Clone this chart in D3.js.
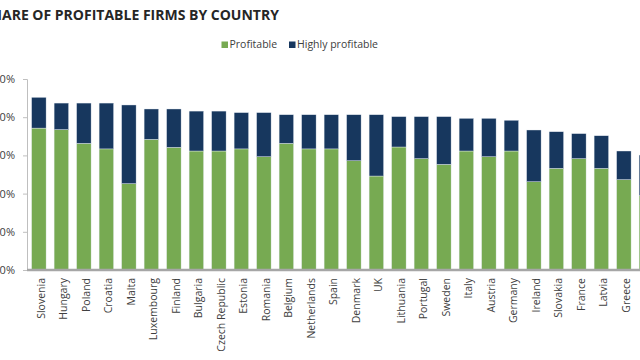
<!DOCTYPE html>
<html><head><meta charset="utf-8">
<script src="https://cdn.jsdelivr.net/npm/d3@7"></script>
<style>html,body{margin:0;padding:0;background:#fff;overflow:hidden}svg{display:block}</style>
</head><body>
<script>
const countries = ["Slovenia","Hungary","Poland","Croatia","Malta","Luxembourg","Finland","Bulgaria","Czech Republic","Estonia","Romania","Belgium","Netherlands","Spain","Denmark","UK","Lithuania","Portugal","Sweden","Italy","Austria","Germany","Ireland","Slovakia","France","Latvia","Greece","Cyprus"];
const profitable = [74.3,73.5,66.3,63.4,45.2,68.4,64.2,62.3,62.3,63.4,59.3,66.3,63.4,63.4,57.2,49.2,64.4,58.3,55.3,62.3,59.3,62.3,46.2,53.2,58.3,53.2,47.3,39.0];
const highlyProfitable = [16.1,13.9,21.1,24.0,41.2,15.9,20.1,20.9,20.9,19.0,23.1,15.0,17.9,17.9,24.1,32.1,15.9,22.0,25.0,17.1,20.1,16.1,27.1,19.2,13.1,17.1,15.0,21.2];
const yTicks = [0,20,40,60,80,100];
const seriesNames = ["Profitable","Highly profitable"];
const colors = ["#77aa52","#17375e"];

const W=640,H=360;
const svg=d3.select("body").append("svg").attr("width",W).attr("height",H);
const font="'Open Sans', sans-serif";

const data=countries.map((c,i)=>({country:c,p:profitable[i],h:highlyProfitable[i]}));
const stack=d3.stack().keys(["p","h"])(data);

const x=d3.scaleBand().domain(countries).range([27.6,27.6+countries.length*22.5]).paddingInner(0.356).paddingOuter(0.178);
const y=d3.scaleLinear().domain([0,100]).range([270,79]);

// title
const tmp=svg.append("text").attr("font-family",font).attr("font-weight","bold").attr("font-size",14).text("SH");
const shW=tmp.node().getComputedTextLength(); tmp.remove();
svg.append("text").attr("x",2-shW).attr("y",20).attr("font-family",font).attr("font-weight","bold")
  .attr("font-size",14).attr("fill","#262626").text("SHARE OF PROFITABLE FIRMS BY COUNTRY");

// legend
const legX=[221.5,289];
seriesNames.forEach((n,i)=>{
  const g=svg.append("g").attr("transform",`translate(${legX[i]},0)`);
  g.append("rect").attr("x",0).attr("y",41.5).attr("width",6.5).attr("height",6.5).attr("fill",colors[i]);
  g.append("text").attr("x",8).attr("y",48).attr("font-family",font).attr("font-size",10.5).attr("fill","#404040").text(n);
});

// y axis
const yAxis=svg.append("g").attr("transform","translate(27,0)")
  .call(d3.axisLeft(y).tickValues(yTicks).tickFormat(d=>d+"%").tickSize(4).tickPadding(8));
yAxis.select(".domain").attr("stroke","#bfbfbf");
yAxis.selectAll(".tick line").attr("stroke","#bfbfbf");
yAxis.selectAll("text").attr("font-family",font).attr("font-size",11).attr("fill","#404040");

// bars
svg.append("g").selectAll("g").data(stack).join("g").attr("fill",(d,i)=>colors[i])
  .selectAll("rect").data(d=>d).join("rect")
  .attr("x",d=>x(d.data.country)).attr("width",x.bandwidth())
  .attr("y",d=>y(d[1])).attr("height",d=>y(d[0])-y(d[1]))
  .attr("stroke","#e8eef5").attr("stroke-width",0.4);

// x axis
const xAxis=svg.append("g").attr("transform","translate(0,270)")
  .call(d3.axisBottom(x).tickSize(0).tickPadding(0));
xAxis.select(".domain").attr("stroke","#a6a6a6").attr("stroke-width",2.5).attr("d","M27,0H640");
xAxis.selectAll("text").attr("font-family",font).attr("font-size",10.5).attr("fill","#404040")
  .attr("text-anchor","end").attr("transform","rotate(-90)").attr("x",-8).attr("y",2).attr("dy","0.35em");
</script>
</body></html>
